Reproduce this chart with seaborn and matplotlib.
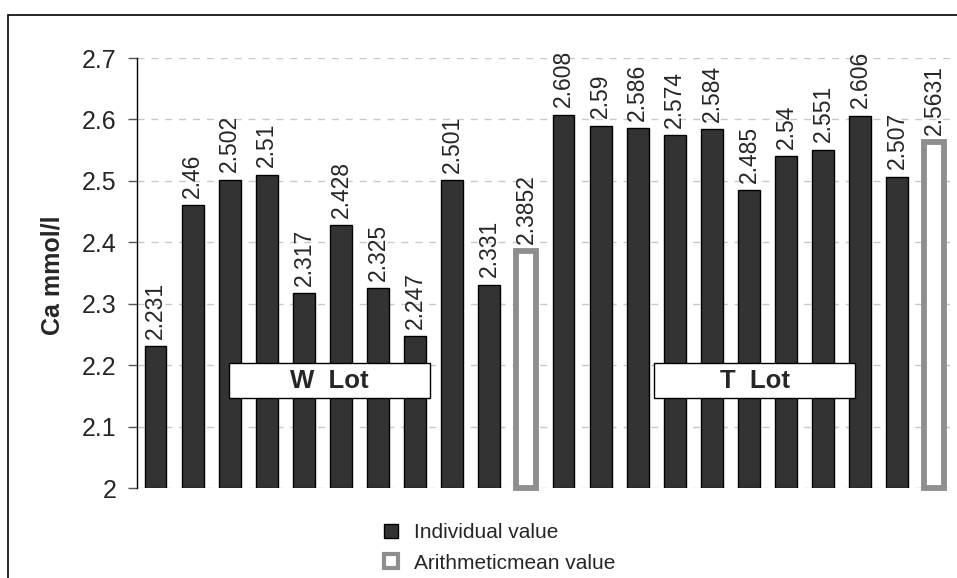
import matplotlib
matplotlib.use("Agg")
import matplotlib.pyplot as plt
from matplotlib.patches import Patch, Rectangle
import pandas as pd
import seaborn as sns

# Calcium measurements (mmol/l) for the two lots
w_values = [2.231, 2.46, 2.502, 2.51, 2.317, 2.428, 2.325, 2.247, 2.501, 2.331]
w_mean = 2.3852
t_values = [2.608, 2.59, 2.586, 2.574, 2.584, 2.485, 2.54, 2.551, 2.606, 2.507]
t_mean = 2.5631

lot_names = ["W  Lot", "T  Lot"]
kind_names = ["Individual value", "Arithmeticmean value"]
y_ticks = [2, 2.1, 2.2, 2.3, 2.4, 2.5, 2.6, 2.7]
BASE = 2.0

rows = []
for lot, vals, mean in (("W", w_values, w_mean), ("T", t_values, t_mean)):
    for i, v in enumerate(vals):
        rows.append((f"{lot}{i + 1}", v, kind_names[0]))
    rows.append((f"{lot} mean", mean, kind_names[1]))
df = pd.DataFrame(rows, columns=["sample", "value", "kind"])
df["rise"] = df["value"] - BASE

sns.set_theme(style="white")
plt.rcParams["font.family"] = ["Liberation Sans", "DejaVu Sans"]

fig = plt.figure(figsize=(9.57, 5.78), dpi=100)
ax = fig.add_axes([137 / 957, 1 - 488 / 578, (953 - 137) / 957, (488 - 58) / 578])

sns.barplot(data=df, x="sample", y="rise", hue="kind", order=list(df["sample"]),
            hue_order=kind_names, dodge=False, width=0.59, legend=False,
            palette={kind_names[0]: "#333333", kind_names[1]: "white"},
            bottom=BASE, ax=ax, zorder=3)

# seaborn draws one hue group after the other; put the bars back in x order
bars = sorted(ax.patches, key=lambda p: p.get_x())
for patch, kind, v in zip(bars, df["kind"], df["value"]):
    if kind == kind_names[0]:
        patch.set_facecolor("#333333")
        patch.set_edgecolor("black")
        patch.set_linewidth(1.0)
    else:
        # mean bars: white body inside a thick grey frame
        cx = patch.get_x() + patch.get_width() / 2
        patch.set_width(0.54)
        patch.set_x(cx - 0.27)
        patch.set_facecolor("white")
        patch.set_edgecolor("#8e8e8e")
        patch.set_linewidth(4.2)
        patch.set_clip_on(False)
    # rotated value label above the bar
    ax.text(patch.get_x() + patch.get_width() / 2, patch.get_y() + patch.get_height() + 0.012,
            f"{v:g}", rotation=90, ha="center", va="bottom", fontsize=16.5, zorder=5)

ax.set_ylim(2, 2.7)
ax.set_xlim(-0.5, len(df) - 0.5)
ax.set_yticks(y_ticks)
ax.set_yticklabels([f"{t:g}" for t in y_ticks], fontsize=18)
ax.set_xticks([])
ax.set_xlabel("")
ax.set_ylabel("Ca mmol/l", fontsize=18, fontweight="bold", va="center")
ax.yaxis.set_label_coords(-0.104, 0.495)
ax.tick_params(axis="y", direction="out", length=6.5, width=1, color="#555555", pad=8, left=True)
ax.yaxis.grid(True, linestyle=(0, (5, 5)), color="#c8c8c8", linewidth=1)
ax.set_axisbelow(True)
for side in ("top", "right", "bottom"):
    ax.spines[side].set_visible(False)
ax.spines["left"].set_color("black")
ax.spines["left"].set_linewidth(1)

# lot name boxes
for name, x0, x1 in ((lot_names[0], 1.98, 7.40), (lot_names[1], 13.44, 18.86)):
    ax.add_patch(Rectangle((x0, 2.1465), x1 - x0, 0.057, facecolor="white",
                           edgecolor="black", linewidth=1, zorder=6))
    ax.text((x0 + x1) / 2, 2.174, name, ha="center", va="center",
            fontsize=18.5, fontweight="bold", zorder=7)

handles = [Patch(facecolor="#333333", edgecolor="black", linewidth=1),
           Patch(facecolor="white", edgecolor="#8e8e8e", linewidth=3)]
fig.legend(handles, kind_names, loc="center", bbox_to_anchor=(500 / 957, 1 - 548 / 578),
           frameon=False, fontsize=15, handlelength=0.65, handleheight=0.65,
           labelspacing=0.55, handletextpad=0.8, borderpad=0.1)

# outer chart frame
fig.patches.append(Rectangle((8 / 957, -0.2), 1.2, 1 - 15 / 578 + 0.2,
                             transform=fig.transFigure, fill=False,
                             edgecolor="black", linewidth=1.2))

fig.savefig("out.png", dpi=100)
